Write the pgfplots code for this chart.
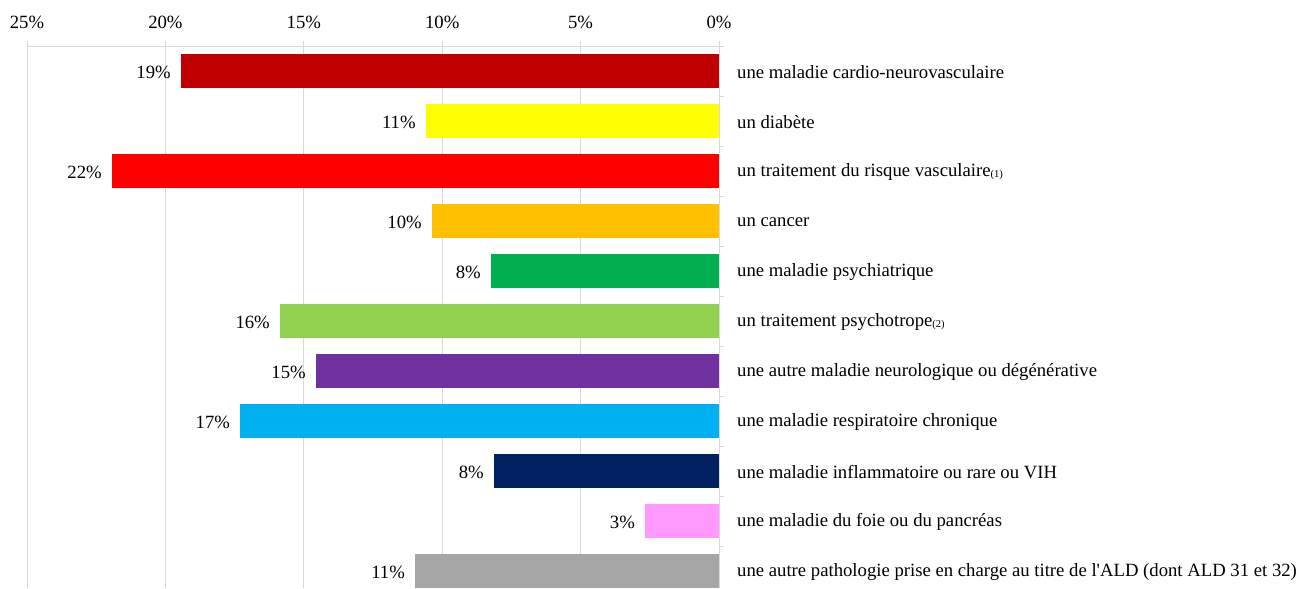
\documentclass[border=0pt]{standalone}
\usepackage{pgfplots}
\pgfplotsset{compat=1.18}
\usepackage{fontspec}
\setmainfont{Liberation Serif}
\definecolor{gridgray}{HTML}{D9D9D9}
\definecolor{c1}{HTML}{C00000}
\definecolor{c2}{HTML}{FFFF00}
\definecolor{c3}{HTML}{FF0000}
\definecolor{c4}{HTML}{FFC000}
\definecolor{c5}{HTML}{00B050}
\definecolor{c6}{HTML}{92D050}
\definecolor{c7}{HTML}{7030A0}
\definecolor{c8}{HTML}{00B0F0}
\definecolor{c9}{HTML}{002060}
\definecolor{c10}{HTML}{FF99FF}
\definecolor{c11}{HTML}{A6A6A6}
\newcommand{\note}[1]{\raisebox{-1.5pt}{\fontsize{10.5}{10.5}\selectfont(#1)}}
\newcommand{\fs}{\fontsize{18.7}{22}\selectfont}
\begin{document}
\fs
\begin{tikzpicture}
\begin{axis}[
  name=ax,
  scale only axis,
  width=692pt, height=542pt,
  x dir=reverse,
  xmin=0, xmax=25,
  ymin=-0.34, ymax=10.5,
  axis x line*=top,
  axis y line*=right,
  axis line style={draw=gridgray, line width=0.8pt},
  tick style={draw=gridgray, line width=0.8pt},
  tick align=outside,
  major tick length=5pt,
  xmajorgrids,
  grid style={draw=gridgray, line width=0.8pt},
  xtick={0,5,10,15,20,25},
  xticklabel={\pgfmathprintnumber{\tick}\%},
  /pgf/number format/assume math mode=true,
  xticklabel style={font=\fs, yshift=6pt},
  ytick={0.5,1.5,...,10.5},
  yticklabels={},
  extra y ticks={0,1,2,3,4,5,6,7,8,9,10},
  extra y tick labels={
    {une autre pathologie prise en charge au titre de l\textquotesingle ALD (dont ALD 31 et 32)},
    {une maladie du foie ou du pancréas},
    {une maladie inflammatoire ou rare ou VIH},
    {une maladie respiratoire chronique},
    {une autre maladie neurologique ou dégénérative},
    {un traitement psychotrope\note{2}},
    {une maladie psychiatrique},
    {un cancer},
    {un traitement du risque vasculaire\note{1}},
    {un diabète},
    {une maladie cardio-neurovasculaire}},
  extra y tick style={tick style={draw=none}, grid=none,
    yticklabel style={anchor=west, inner sep=0pt, xshift=13pt, yshift=-1pt, font=\fs}},
  xbar, bar width=34pt, bar shift=0pt,
  point meta=x,
  nodes near coords={\pgfmathprintnumber[fixed,precision=0]{\pgfplotspointmeta}\%},
  nodes near coords style={anchor=east, inner sep=0pt, xshift=-10pt, yshift=-1pt, text=black, font=\fs},
]
\addplot[fill=c1, draw=none] coordinates {(19.44,10)};
\addplot[fill=c2, draw=none] coordinates {(10.59,9)};
\addplot[fill=c3, draw=none] coordinates {(21.93,8)};
\addplot[fill=c4, draw=none] coordinates {(10.37,7)};
\addplot[fill=c5, draw=none] coordinates {(8.24,6)};
\addplot[fill=c6, draw=none] coordinates {(15.86,5)};
\addplot[fill=c7, draw=none] coordinates {(14.56,4)};
\addplot[fill=c8, draw=none] coordinates {(17.30,3)};
\addplot[fill=c9, draw=none] coordinates {(8.13,2)};
\addplot[fill=c10, draw=none] coordinates {(2.67,1)};
\addplot[fill=c11, draw=none] coordinates {(10.98,0)};
\end{axis}
\path ([xshift=-27pt]ax.south west) rectangle ([xshift=580pt,yshift=46pt]ax.north east);
\end{tikzpicture}
\end{document}
